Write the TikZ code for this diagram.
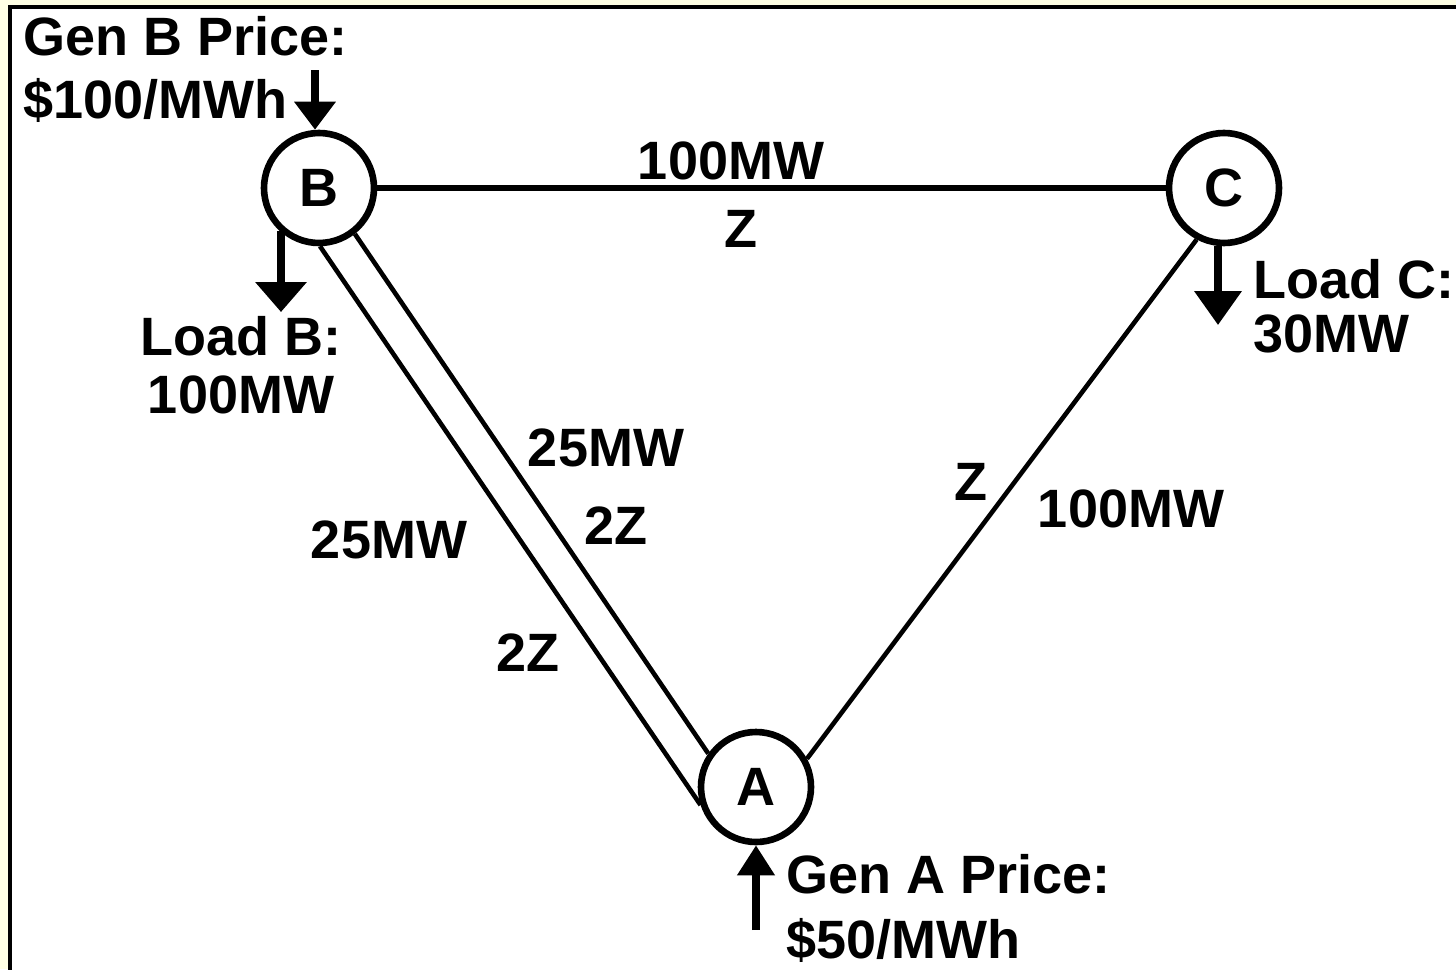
\documentclass[tikz,border=0pt]{standalone}
\usepackage{fontspec}
\setmainfont{Liberation Sans}
\usetikzlibrary{arrows.meta}
\definecolor{paleyellow}{HTML}{FFFFE4}
\begin{document}
\begin{tikzpicture}[x=0.5pt,y=-0.5pt,
  bus/.style={circle,draw,line width=3.3pt,minimum size=55pt,inner sep=0pt,
    font=\fontsize{27}{30}\selectfont\bfseries},
  lbl/.style={inner sep=0pt,anchor=base,font=\fontsize{27}{30}\selectfont\bfseries},
  txtblock/.style={inner sep=0pt,font=\fontsize{27}{#1}\selectfont\bfseries},
  wire/.style={line width=2.3pt},
  mainwire/.style={line width=3.3pt},
  flow/.style={line width=3.6pt}
]
\useasboundingbox (0,0) rectangle (1456,969);
\fill[white] (0,0) rectangle (1456,969);
\fill[paleyellow] (0,0) rectangle (10,969);
\fill[paleyellow] (0,0) rectangle (1456,7);
\draw[line width=2pt] (10,990) -- (10,7) -- (1480,7);

% buses
\node[bus] (B) at (319,188) {B};
\node[bus] (C) at (1224,188) {C};
\node[bus] (A) at (756,787) {A};

% lines
\draw[mainwire] (B) -- (C);
\draw[wire] (B.-89) -- (A.198);
\draw[wire] (B.-52) -- (A.145);
\draw[wire] (A.29) -- (C.242);

% injections and loads
\coordinate (gBin) at (315,70);
\draw[flow,-{Triangle[width=20pt,length=14pt]}] (gBin) -- (gBin |- B.north);
\coordinate (lBend) at (281,312);
\draw[flow,-{Triangle[width=25pt,length=15pt]}] (lBend |- B.228) -- (lBend);
\coordinate (lCend) at (1218,325);
\draw[flow,-{Triangle[width=23pt,length=17pt]}] (lCend |- C.south) -- (lCend);
\coordinate (gAin) at (756,930);
\draw[flow,-{Triangle[width=18pt,length=15pt]}] (gAin) -- (A.south);

% text blocks (base anchor = baseline of the last line)
\node[txtblock=31.5pt,anchor=base west,align=left] (genB) at (23,118) {Gen B Price:\\\$100/MWh};
\node[txtblock=29pt,anchor=base,align=center] (loadB) at (241,413) {Load B:\\100MW};
\node[txtblock=27pt,anchor=base west,align=left] (loadC) at (1253,352) {Load C:\\30MW};
\node[txtblock=32.5pt,anchor=base west,align=left] (genA) at (786,958) {Gen A Price:\\\$50/MWh};

% line labels
\node[lbl] (bcP) at (731,179) {100MW};
\node[lbl] (bcZ) at (741,247) {Z};
\node[lbl] (ba1P) at (606,466) {25MW};
\node[lbl] (ba1Z) at (616,544) {2Z};
\node[lbl] (ba2P) at (389,558) {25MW};
\node[lbl] (ba2Z) at (528,671) {2Z};
\node[lbl] (acZ) at (971,500) {Z};
\node[lbl] (acP) at (1131,527) {100MW};
\end{tikzpicture}
\end{document}
